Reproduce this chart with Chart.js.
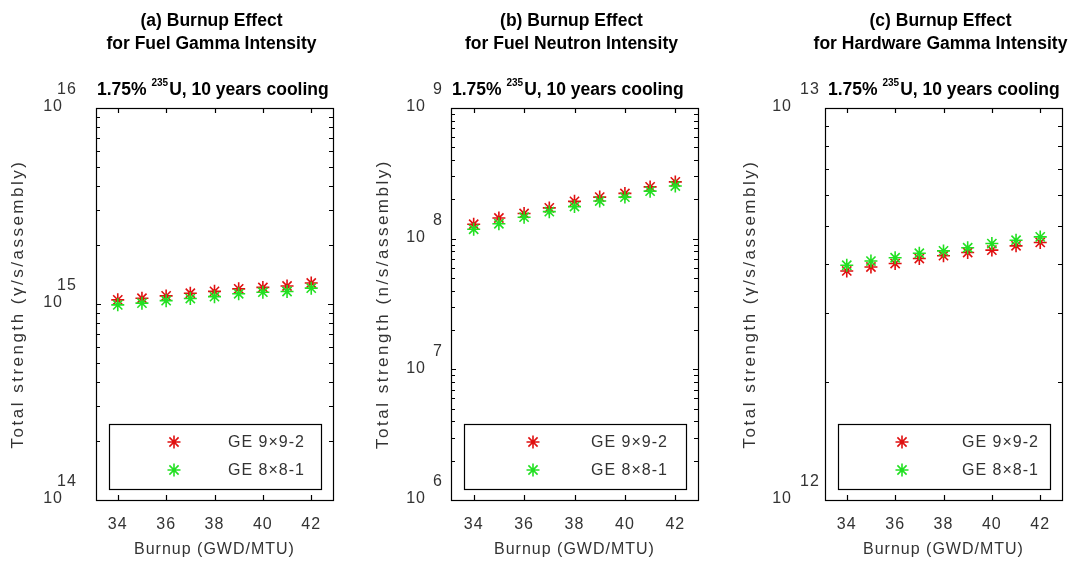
<!DOCTYPE html>
<html><head><meta charset="utf-8">
<script src="https://cdn.jsdelivr.net/npm/chart.js@4.4.1/dist/chart.umd.min.js"></script>
<style>
html,body{margin:0;padding:0;background:#fff;}
#wrap{position:relative;width:1078px;height:562px;background:#fff;}
canvas{position:absolute;left:0;top:0;}
</style></head><body>
<div id="wrap">
<canvas id="ca" width="1078" height="562"></canvas>
<canvas id="cb" width="1078" height="562"></canvas>
<canvas id="cc" width="1078" height="562"></canvas>
</div>
<script>
// ---------- data ----------
const burnup = [34, 35, 36, 37, 38, 39, 40, 41, 42];
const xTickValues = [34, 36, 38, 40, 42];
const seriesNames = ['GE 9×9-2', 'GE 8×8-1'];

const fuelGamma9x9 = [1.05e15, 1.07e15, 1.10e15, 1.135e15, 1.16e15, 1.195e15, 1.215e15, 1.235e15, 1.28e15];
const fuelGamma8x8 = [0.99e15, 1.01e15, 1.04e15, 1.066e15, 1.09e15, 1.127e15, 1.149e15, 1.158e15, 1.205e15];

const fuelNeutron9x9 = [1.29e8, 1.44e8, 1.56e8, 1.72e8, 1.93e8, 2.08e8, 2.22e8, 2.49e8, 2.72e8];
const fuelNeutron8x8 = [1.18e8, 1.30e8, 1.46e8, 1.61e8, 1.76e8, 1.94e8, 2.08e8, 2.31e8, 2.53e8];

const hwGamma9x9 = [3.84e12, 3.93e12, 4.01e12, 4.13e12, 4.20e12, 4.28e12, 4.34e12, 4.45e12, 4.54e12];
const hwGamma8x8 = [3.97e12, 4.07e12, 4.15e12, 4.26e12, 4.32e12, 4.40e12, 4.51e12, 4.60e12, 4.69e12];

const yExponentsA = [14, 15, 16];
const yExponentsB = [6, 7, 8, 9];
const yExponentsC = [12, 13];

const titlesA = ['(a) Burnup Effect', 'for Fuel Gamma Intensity'];
const titlesB = ['(b) Burnup Effect', 'for Fuel Neutron Intensity'];
const titlesC = ['(c) Burnup Effect', 'for Hardware Gamma Intensity'];
const subtitleParts = ['1.75% ', '235', 'U, 10 years cooling'];
const yTitleGamma = 'Total strength (γ/s/assembly)';
const yTitleNeutron = 'Total strength (n/s/assembly)';
const xTitle = 'Burnup (GWD/MTU)';

// ---------- style ----------
const FONT = "'Liberation Sans', Arial, Helvetica, sans-serif";
const GRAY = '#333333';
const RED = '#e01010';
const GREEN = '#22e022';
const TOP = 108, BOTTOM = 500, W = 1078, H = 562;

function starAt(ctx, x, y, r, color, lw) {
  ctx.save();
  ctx.strokeStyle = color; ctx.lineWidth = lw;
  ctx.beginPath();
  ctx.moveTo(x - r, y); ctx.lineTo(x + r, y);
  ctx.moveTo(x, y - r); ctx.lineTo(x, y + r);
  const d = r * Math.SQRT1_2;
  ctx.moveTo(x - d, y - d); ctx.lineTo(x + d, y + d);
  ctx.moveTo(x - d, y + d); ctx.lineTo(x + d, y - d);
  ctx.stroke();
  ctx.restore();
}

const decorPlugin = {
  id: 'decor',
  beforeDraw(chart) {
    chart.ctx.letterSpacing = '1px';
  },
  afterDraw(chart, args, o) {
    const ctx = chart.ctx;
    const ca = chart.chartArea;
    const xs = chart.scales.x, ys = chart.scales.y;
    ctx.save();
    // frame
    ctx.strokeStyle = '#000'; ctx.lineWidth = 1.2;
    ctx.strokeRect(ca.left + 0.5, ca.top + 0.5, ca.right - ca.left, ca.bottom - ca.top);
    // x ticks (inside, top and bottom)
    ctx.beginPath();
    xTickValues.forEach(v => {
      const px = Math.round(xs.getPixelForValue(v)) + 0.5;
      ctx.moveTo(px, ca.bottom); ctx.lineTo(px, ca.bottom - 5);
      ctx.moveTo(px, ca.top); ctx.lineTo(px, ca.top + 5);
    });
    // y ticks major & minor (inside, left and right)
    const exps = o.exps;
    for (let i = 0; i < exps.length; i++) {
      const e = exps[i];
      const py = Math.round(ys.getPixelForValue(Math.pow(10, e))) + 0.5;
      ctx.moveTo(ca.left, py); ctx.lineTo(ca.left + 5, py);
      ctx.moveTo(ca.right, py); ctx.lineTo(ca.right - 5, py);
      if (i < exps.length - 1) {
        for (let m = 2; m <= 9; m++) {
          const q = Math.round(ys.getPixelForValue(m * Math.pow(10, e))) + 0.5;
          ctx.moveTo(ca.left, q); ctx.lineTo(ca.left + 4, q);
          ctx.moveTo(ca.right, q); ctx.lineTo(ca.right - 4, q);
        }
      }
    }
    ctx.stroke();

    // y tick labels 10^n
    ctx.fillStyle = GRAY;
    ctx.letterSpacing = '1px';
    ctx.font = '16px ' + FONT;
    ctx.textBaseline = 'middle';
    exps.forEach(e => {
      const py = ys.getPixelForValue(Math.pow(10, e));
      ctx.textAlign = 'right';
      ctx.fillText('10', ca.left + o.tenRight, py - 1);
      ctx.textAlign = 'left';
      ctx.fillText(String(e), ca.left + o.expLeft, py - 18);
    });

    // y title
    ctx.save();
    ctx.translate(o.yTitleX, (ca.top + ca.bottom) / 2);
    ctx.rotate(-Math.PI / 2);
    ctx.textAlign = 'center';
    ctx.textBaseline = 'middle';
    ctx.font = '17px ' + FONT;
    ctx.letterSpacing = '2.5px';
    ctx.fillText(o.yTitle, 0, 0);
    ctx.restore();

    // titles
    ctx.fillStyle = '#000';
    ctx.letterSpacing = '0px';
    ctx.font = 'bold 17.5px ' + FONT;
    ctx.textAlign = 'center';
    ctx.textBaseline = 'middle';
    const cx = (ca.left + ca.right) / 2 - 3;
    ctx.fillText(o.titles[0], cx, 21);
    ctx.fillText(o.titles[1], cx, 44);

    // subtitle with superscript
    ctx.textAlign = 'left';
    let sx = ca.left + o.subX;
    ctx.font = 'bold 17.5px ' + FONT;
    ctx.fillText(subtitleParts[0], sx, 90);
    sx += ctx.measureText(subtitleParts[0]).width;
    ctx.font = 'bold 10px ' + FONT;
    ctx.fillText(subtitleParts[1], sx, 83);
    sx += ctx.measureText(subtitleParts[1]).width + 1;
    ctx.font = 'bold 17.5px ' + FONT;
    ctx.fillText(subtitleParts[2], sx, 90);

    // legend box
    const lx0 = ca.left + 13, lx1 = ca.right - 12, ly0 = 424, ly1 = 489;
    ctx.fillStyle = '#fff';
    ctx.fillRect(lx0, ly0, lx1 - lx0, ly1 - ly0);
    ctx.strokeStyle = '#000'; ctx.lineWidth = 1.2;
    ctx.strokeRect(lx0 + 0.5, ly0 + 0.5, lx1 - lx0, ly1 - ly0);
    const ds = chart.data.datasets;
    const rows = [442, 470];
    ctx.font = '16px ' + FONT;
    ctx.letterSpacing = '1px';
    ctx.fillStyle = GRAY;
    ctx.textBaseline = 'middle';
    ds.forEach((d, i) => {
      starAt(ctx, ca.left + o.legStar, rows[i], d.pointRadius, d.borderColor, d.borderWidth);
      ctx.fillStyle = GRAY;
      ctx.fillText(d.label, ca.left + o.legText, rows[i] + 1);
    });
    ctx.restore();
  }
};

function makeChart(id, L, R, yMin, yMax, s9, s8, opts) {
  const toPts = arr => burnup.map((b, i) => ({ x: b, y: arr[i] }));
  return new Chart(document.getElementById(id), {
    type: 'scatter',
    data: {
      datasets: [
        { label: seriesNames[0], data: toPts(s9), pointStyle: 'star', pointRadius: 6.5, borderColor: RED, backgroundColor: RED, borderWidth: 1.6, order: 1 },
        { label: seriesNames[1], data: toPts(s8), pointStyle: 'star', pointRadius: 6.5, borderColor: GREEN, backgroundColor: GREEN, borderWidth: 1.6, order: 0 }
      ]
    },
    options: {
      responsive: false,
      animation: false,
      events: [],
      layout: { padding: { left: L, right: W - R, top: TOP, bottom: 0 } },
      plugins: { legend: { display: false }, tooltip: { enabled: false }, decor: opts },
      scales: {
        x: {
          type: 'linear', min: 33.1, max: 42.9,
          afterBuildTicks: s => { s.ticks = xTickValues.map(v => ({ value: v })); },
          afterFit: s => { s.height = H - BOTTOM; },
          grid: { display: false, drawTicks: false },
          border: { display: false },
          ticks: { color: GRAY, font: { family: FONT, size: 16 }, padding: 15, maxRotation: 0 },
          title: { display: true, text: xTitle, color: GRAY, font: { family: FONT, size: 16 }, padding: { top: 0, bottom: 3 } }
        },
        y: {
          type: 'logarithmic', min: yMin, max: yMax,
          afterFit: s => { s.width = 0; },
          grid: { display: false, drawTicks: false },
          border: { display: false },
          ticks: { display: false }
        }
      }
    },
    plugins: [decorPlugin]
  });
}

makeChart('ca', 96, 333, 1e14, 1e16, fuelGamma9x9, fuelGamma8x8,
  { exps: yExponentsA, titles: titlesA, yTitle: yTitleGamma, yTitleX: 18, tenRight: -33, expLeft: -39, subX: 1, legStar: 78, legText: 132 });
makeChart('cb', 451, 698, 1e6, 1e9, fuelNeutron9x9, fuelNeutron8x8,
  { exps: yExponentsB, titles: titlesB, yTitle: yTitleNeutron, yTitleX: 383, tenRight: -25, expLeft: -18, subX: 1, legStar: 82, legText: 140 });
makeChart('cc', 825, 1062, 1e12, 1e13, hwGamma9x9, hwGamma8x8,
  { exps: yExponentsC, titles: titlesC, yTitle: yTitleGamma, yTitleX: 750, tenRight: -33, expLeft: -25, subX: 3, legStar: 77, legText: 137 });
</script>
</body></html>
